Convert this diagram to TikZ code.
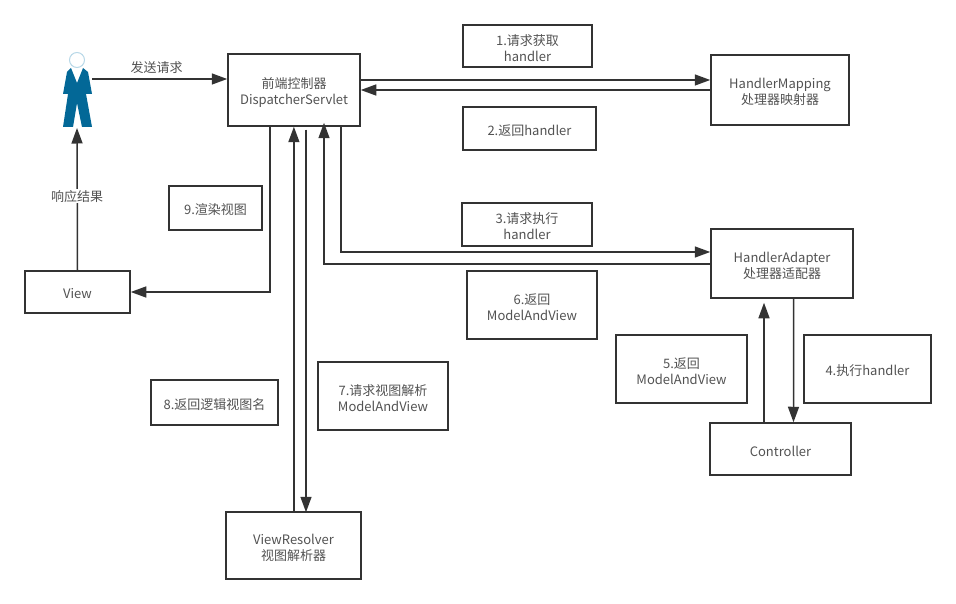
\documentclass[tikz,border=0pt]{standalone}
\usepackage{fontspec}
\setmainfont{Noto Sans CJK SC}
\usepackage{tikz}
\usetikzlibrary{arrows.meta, positioning, calc}
\definecolor{linegray}{HTML}{333333}
\definecolor{personblue}{HTML}{036897}
\definecolor{headblue}{HTML}{B8D8E8}
\tikzset{
  boxnode/.style={draw=linegray, line width=1.5pt, inner sep=0pt},
  flow/.style={draw=linegray, line width=1.5pt, -{Triangle[length=15.5pt,width=11pt]}},
  freetext/.style={text=linegray!85, align=center, font=\fontsize{13pt}{16pt}\selectfont},
}
\newcommand{\labelbox}[6]{%
  \node[boxnode, minimum width=#3pt-#1pt, minimum height=#4pt-#2pt] (#5)
    at ({(#1+#3)/2},{(#2+#4)/2}) {};
  \node[freetext, yshift=-2pt] (#5text) at (#5) {#6};}
\begin{document}
\begin{tikzpicture}[x=1pt, y=-1pt]
    \useasboundingbox (0,0) rectangle (956,604);

    % --- Main components ---
    \labelbox{228}{54}{360}{126}{dispatcher}{前端控制器\\DispatcherServlet}
    \labelbox{711}{55}{849}{125}{mapping}{HandlerMapping\\处理器映射器}
    \labelbox{711}{229}{853}{298}{adapter}{HandlerAdapter\\处理器适配器}
    \labelbox{710}{423}{851}{475}{controller}{Controller}
    \labelbox{226}{512}{361}{579}{resolver}{ViewResolver\\视图解析器}
    \labelbox{25}{271}{130}{313}{view}{View}

    % --- Step labels ---
    \labelbox{463}{25}{592}{67}{stepone}{1.请求获取\\handler}
    \labelbox{463}{107}{596}{150}{steptwo}{2.返回handler}
    \labelbox{462}{203}{592}{246}{stepthree}{3.请求执行\\handler}
    \labelbox{804}{335}{931}{403}{stepfour}{4.执行handler}
    \labelbox{616}{335}{747}{403}{stepfive}{5.返回\\ModelAndView}
    \labelbox{467}{271}{597}{339}{stepsix}{6.返回\\ModelAndView}
    \labelbox{318}{362}{448}{430}{stepseven}{7.请求视图解析\\ModelAndView}
    \labelbox{151}{380}{278}{425}{stepeight}{8.返回逻辑视图名}
    \labelbox{169}{186}{262}{230}{stepnine}{9.渲染视图}

    % --- Person ---
    \fill[personblue] (71,68) -- (77,83) -- (83,68) -- (88,72)
      -- (92,94) -- (86,94) -- (92,127) -- (82,127) -- (77,103) -- (73,127) -- (63,127)
      -- (68,94) -- (63,94) -- (67,72) -- cycle;
    \node[circle, draw=headblue, fill=white, line width=1pt, minimum size=15pt, inner sep=0pt] (person) at (77,60) {};
    \coordinate (personright) at (92,79);
    \coordinate (personbottom) at (77,128);

    % --- Connectors ---
    \draw[flow] (personright) -- (dispatcher.west |- personright)
      node[midway, above=1pt, xshift=-3pt, freetext] (sendtext) {发送请求};
    \draw[flow] (view.north) -- (personbottom)
      node[pos=0.52, fill=white, inner sep=1pt, freetext] (resulttext) {响应结果};

    \draw[flow] ([yshift=10pt]dispatcher.east) -- ([yshift=10pt]mapping.west);
    \draw[flow] (mapping.west) -- (dispatcher.east);

    \draw[flow] ([xshift=47pt]dispatcher.south) |- ([yshift=11.5pt]adapter.west);
    \draw[flow] ([yshift=-0.6pt]adapter.west) -| ([xshift=30pt,yshift=4pt]dispatcher.south);
    \draw[flow] ([xshift=11.6pt]adapter.south) -- ([xshift=13pt]controller.north);
    \draw[flow] ([xshift=-16.5pt]controller.north) -- ([xshift=-18pt,yshift=-4pt]adapter.south);

    \draw[flow] ([xshift=-24pt]dispatcher.south) |- (view.east);
    \draw[flow] ([xshift=0.4pt]resolver.north) -- ([xshift=-0.1pt]dispatcher.south);
    \draw[flow] ([xshift=12pt,yshift=-3pt]dispatcher.south) -- ([xshift=12.5pt,yshift=-1pt]resolver.north);
  \end{tikzpicture}
\end{document}
